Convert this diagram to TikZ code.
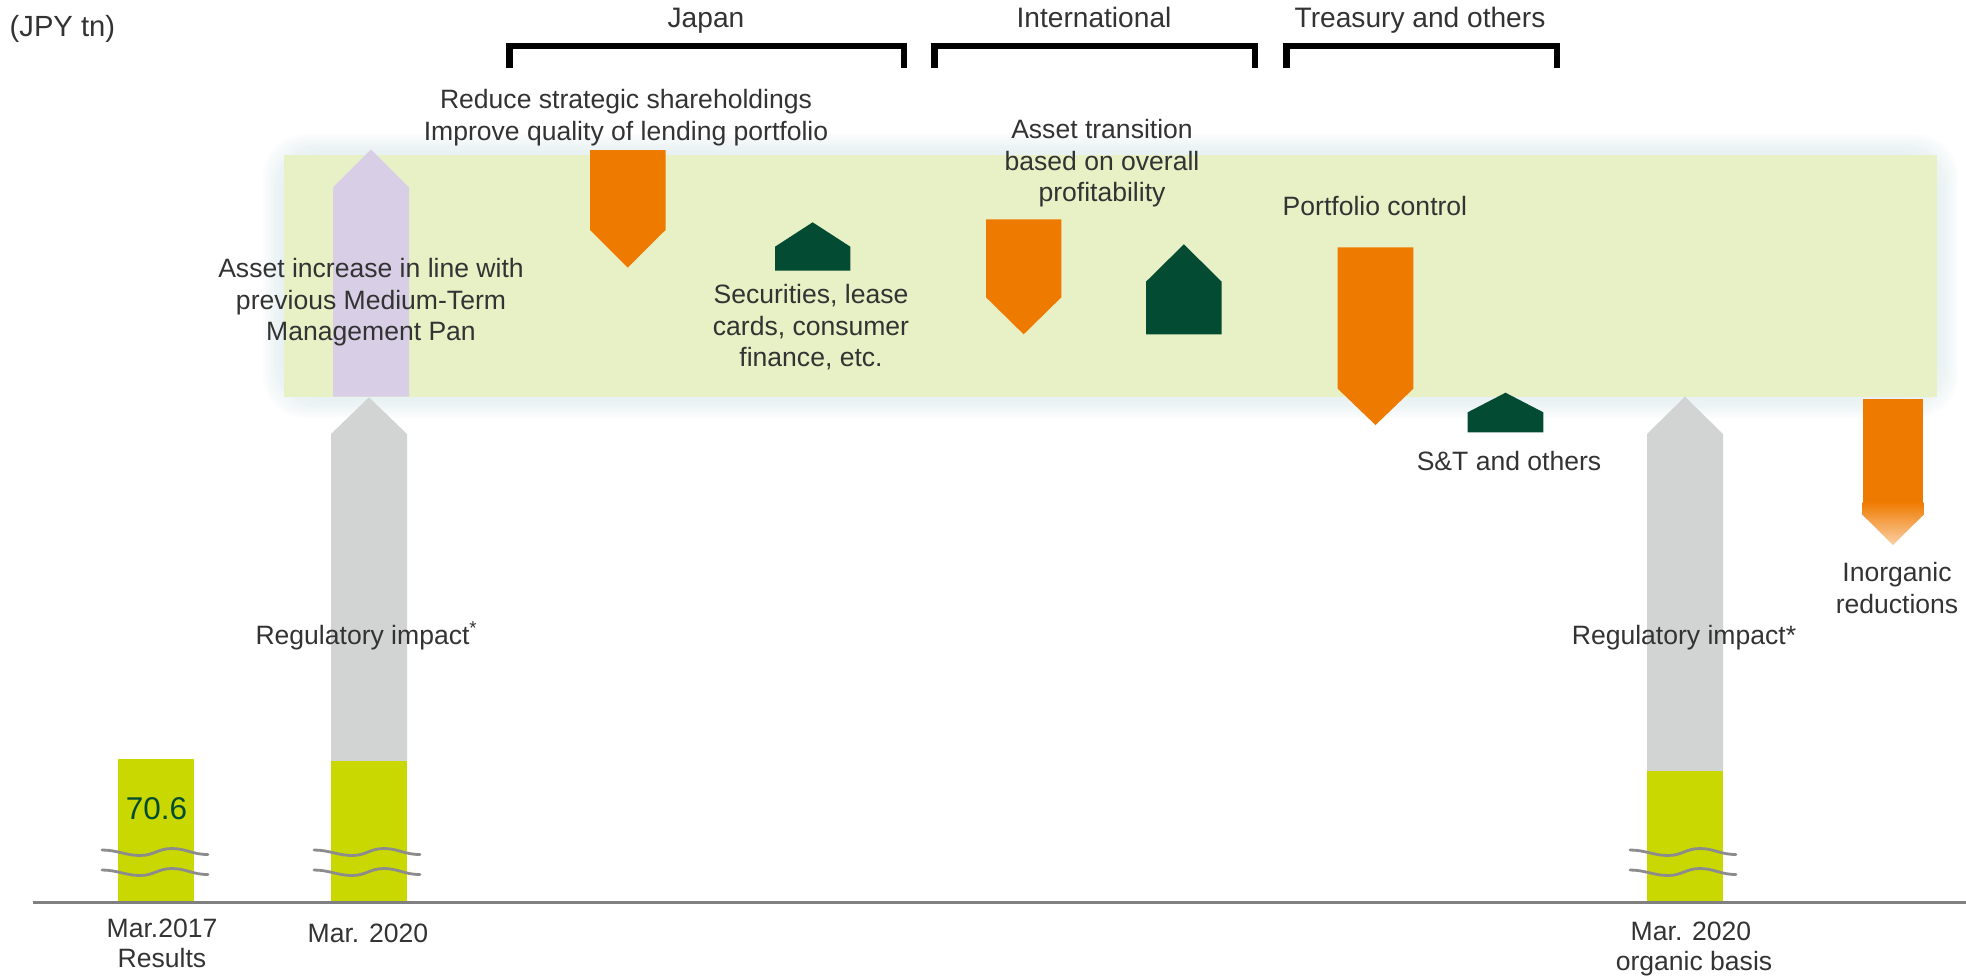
\documentclass[tikz,border=0pt]{standalone}
\usepackage{fontspec}
\setmainfont{Liberation Sans}
\definecolor{txt}{RGB}{51,51,51}
\definecolor{band}{RGB}{232,240,197}
\definecolor{glow}{RGB}{222,236,238}
\definecolor{lav}{RGB}{216,206,230}
\definecolor{lgray}{RGB}{210,211,211}
\definecolor{ygreen}{RGB}{200,216,0}
\definecolor{dgreen}{RGB}{3,75,51}
\definecolor{orng}{RGB}{239,122,0}
\definecolor{peach}{RGB}{250,208,165}
\definecolor{wavecol}{RGB}{140,140,140}
\definecolor{axiscol}{RGB}{128,128,128}
% up arrow: colour, x1, x2, ytip, yshoulder, ybottom
\newcommand\myup[6]{\fill[#1] (#2,#6) -- (#2,#5) -- ({(#2+#3)/2},#4) -- (#3,#5) -- (#3,#6) -- cycle;}
% down arrow: colour, x1, x2, ytop, yshoulder, ytip
\newcommand\mydown[6]{\fill[#1] (#2,#4) -- (#3,#4) -- (#3,#5) -- ({(#2+#3)/2},#6) -- (#2,#5) -- cycle;}
% wave: x0, yc
\newcommand\mywave[2]{\draw[wavy] (#1,{#2-2}) .. controls ({#1+15},{#2-2}) and ({#1+24},{#2+3.5}) .. ({#1+38},{#2+3.5}) .. controls ({#1+52},{#2+3.5}) and ({#1+56},{#2-3.5}) .. ({#1+70},{#2-3.5}) .. controls ({#1+84},{#2-3.5}) and ({#1+90},{#2+2.5}) .. ({#1+106},{#2+2.5});}
\tikzset{
  lbl/.style={anchor=base, inner sep=0pt, text=txt, font=\fontsize{7.55}{9}\selectfont},
  head/.style={lbl, font=\fontsize{8}{9.6}\selectfont},
  bracket/.style={draw=black, line width=0.065cm, line join=miter},
  wavy/.style={draw=wavecol, line width=0.028cm, line cap=round},
}
\begin{document}
\begin{tikzpicture}[x=0.01cm, y=-0.01cm]
\useasboundingbox (0,0) rectangle (1966,978);
\fill[white] (0,0) rectangle (1966,978);

% glow around band
\foreach \i in {1,...,8}{
  \fill[glow, opacity=0.11, rounded corners=12] ({284-2.6*\i},{155-2.6*\i}) rectangle ({1937+2.6*\i},{397+2.6*\i});
}
\fill[band] (284,155) rectangle (1937,397);

% axis
\draw[axiscol, line width=0.03cm] (33,902) -- (1966,902);

% bars
\fill[ygreen] (118,759) rectangle (194,901);
\myup{lgray}{331}{407}{397.3}{434}{761}
\fill[ygreen] (331,761) rectangle (407,901);
\myup{lgray}{1647}{1723}{396.7}{434}{771}
\fill[ygreen] (1647,771) rectangle (1723,901);

% purple arrow
\myup{lav}{333}{409}{149.3}{187.3}{396.7}

% orange arrows
\mydown{orng}{590}{665.5}{150}{230}{267.5}
\mydown{orng}{986}{1061.3}{219.3}{297.3}{334.3}
\mydown{orng}{1337.7}{1413.3}{247.3}{388.7}{425}
% inorganic (fading)
\fill[orng] (1862.7,399) rectangle (1923.3,503);
\begin{scope}
  \clip (1862.7,502) -- (1923.3,502) -- (1923.3,515) -- (1893,545) -- (1862.7,515) -- cycle;
  \shade[top color=orng, bottom color=peach] (1862.7,502) rectangle (1923.3,545);
\end{scope}

% green houses
\myup{dgreen}{775}{850.3}{222.3}{246.7}{270.7}
\myup{dgreen}{1146}{1221.7}{244.3}{281.7}{334.3}
\myup{dgreen}{1467.7}{1543.3}{392.7}{412.3}{432.3}

% waves
\mywave{102}{852}
\mywave{102}{872}
\mywave{314}{852}
\mywave{314}{872}
\mywave{1630}{852}
\mywave{1630}{872}

% brackets
\draw[bracket] (509.5,68) -- (509.5,46) -- (904,46) -- (904,68);
\draw[bracket] (934.6,68) -- (934.6,46) -- (1255,46) -- (1255,68);
\draw[bracket] (1286.7,68) -- (1286.7,46) -- (1556.8,46) -- (1556.8,68);

% texts
\node[lbl, anchor=base west, font=\fontsize{8.3}{10}\selectfont] (unit) at (9,36) {(JPY tn)};
\node[head] (japan) at (706,27) {Japan};
\node[head] (intl) at (1094,27) {International};
\node[head] (treas) at (1420,27) {Treasury and others};

\node[lbl] (red1) at (626,108.3) {Reduce strategic shareholdings};
\node[lbl] (red2) at (626,140) {Improve quality of lending portfolio};

\node[lbl] (inc1) at (371,277) {Asset increase in line with};
\node[lbl] (inc2) at (371,309) {previous Medium-Term};
\node[lbl] (inc3) at (371,340.5) {Management Pan};

\node[lbl] (sec1) at (811,303.3) {Securities, lease};
\node[lbl] (sec2) at (811,335) {cards, consumer};
\node[lbl] (sec3) at (811,366.7) {finance, etc.};

\node[lbl] (ast1) at (1102,138.3) {Asset transition};
\node[lbl] (ast2) at (1102,170) {based on overall};
\node[lbl] (ast3) at (1102,201.7) {profitability};

\node[lbl, anchor=base west] (port) at (1282,215) {Portfolio control};
\node[lbl] (st) at (1509,470) {S\&T and others};

\node[lbl] (ino1) at (1897,581.7) {Inorganic};
\node[lbl] (ino2) at (1897,613.4) {reductions};

\node[lbl] (regl) at (367,644) {Regulatory impact\textsuperscript{*}};
\node[lbl] (regr) at (1684,644) {Regulatory impact*};

\node[anchor=base, inner sep=0pt, text=dgreen, font=\fontsize{8.95}{10}\selectfont] (val) at (156.5,819.3) {70.6};

\node[lbl] (d1a) at (162,937) {Mar.2017};
\node[lbl] (d1b) at (162,967) {Results};
\node[lbl] (d2) at (368,942) {Mar. 2020};
\node[lbl] (d3a) at (1691,940) {Mar. 2020};
\node[lbl] (d3b) at (1694,970) {organic basis};
\end{tikzpicture}
\end{document}
